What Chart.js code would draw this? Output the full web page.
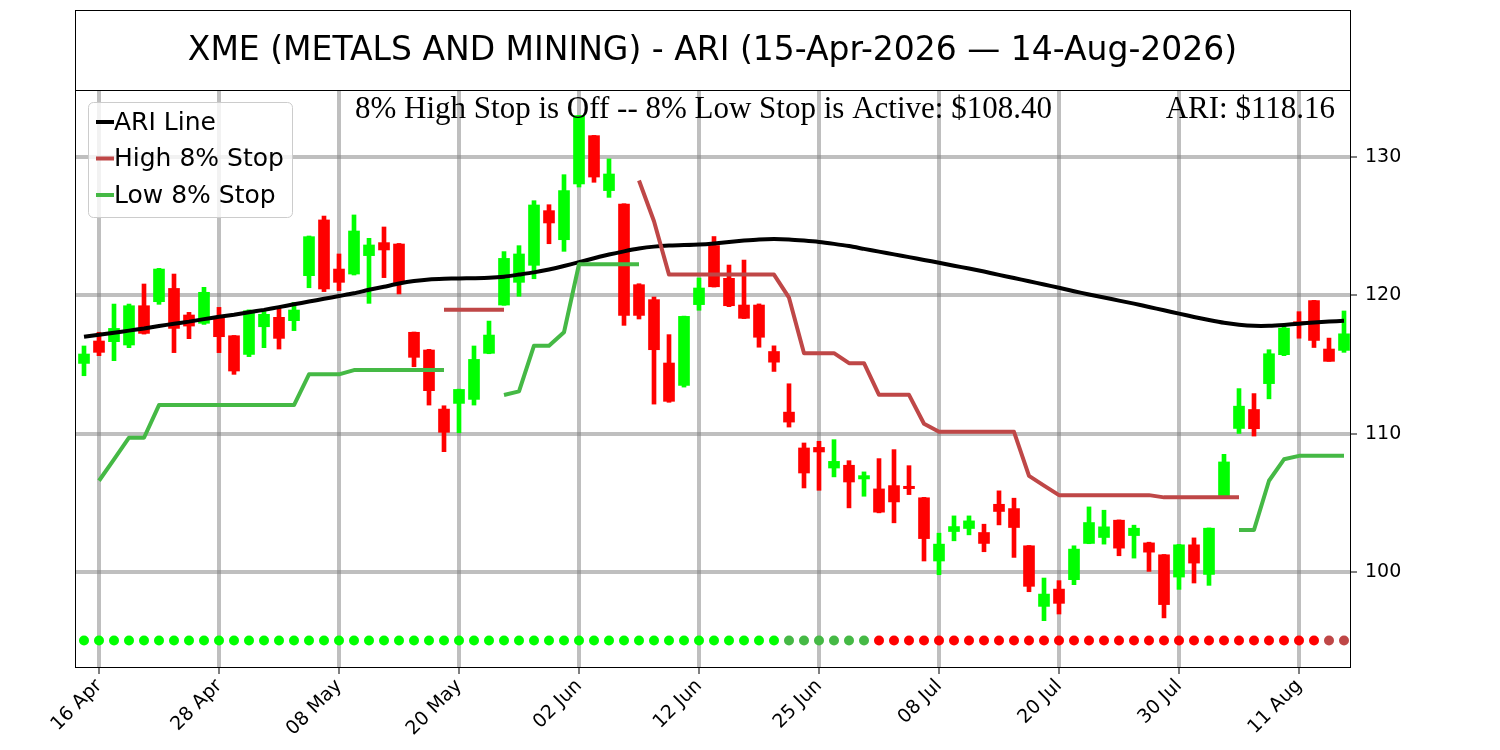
<!DOCTYPE html>
<html>
<head>
<meta charset="utf-8">
<title>XME ARI</title>
<script src="https://cdn.jsdelivr.net/npm/chart.js@4.4.1/dist/chart.umd.min.js"></script>
<style>
  html, body { margin: 0; padding: 0; background: #fff; }
  #wrap { width: 1500px; height: 750px; }
</style>
</head>
<body>
<div id="wrap"><canvas id="chart" width="1500" height="750"></canvas></div>
<script>
// trading days, 15-Apr-2026 .. 14-Aug-2026
const dates = [
  '15 Apr', '16 Apr', '17 Apr', '20 Apr', '21 Apr', '22 Apr', '23 Apr', '24 Apr', '27 Apr', '28 Apr',
  '29 Apr', '30 Apr', '01 May', '04 May', '05 May', '06 May', '07 May', '08 May', '11 May', '12 May',
  '13 May', '14 May', '15 May', '18 May', '19 May', '20 May', '21 May', '22 May', '26 May', '27 May',
  '28 May', '29 May', '01 Jun', '02 Jun', '03 Jun', '04 Jun', '05 Jun', '08 Jun', '09 Jun', '10 Jun',
  '11 Jun', '12 Jun', '15 Jun', '16 Jun', '17 Jun', '18 Jun', '22 Jun', '23 Jun', '24 Jun', '25 Jun',
  '26 Jun', '29 Jun', '30 Jun', '01 Jul', '02 Jul', '06 Jul', '07 Jul', '08 Jul', '09 Jul', '10 Jul',
  '13 Jul', '14 Jul', '15 Jul', '16 Jul', '17 Jul', '20 Jul', '21 Jul', '22 Jul', '23 Jul', '24 Jul',
  '27 Jul', '28 Jul', '29 Jul', '30 Jul', '31 Jul', '03 Aug', '04 Aug', '05 Aug', '06 Aug', '07 Aug',
  '10 Aug', '11 Aug', '12 Aug', '13 Aug', '14 Aug'
];

const opens = [
  115.08, 116.70, 116.65, 116.41, 119.25, 119.54, 120.50, 118.58, 117.98, 118.46,
  117.08, 115.73, 117.73, 118.41, 118.17, 121.42, 125.45, 121.90, 121.54, 122.87,
  123.81, 123.71, 117.33, 116.05, 111.78, 112.19, 112.48, 115.81, 119.30, 120.94,
  122.17, 126.12, 124.02, 128.05, 131.54, 127.57, 126.60, 120.77, 119.69, 115.11,
  113.49, 119.33, 123.60, 121.23, 119.30, 119.30, 115.94, 111.56, 108.97, 109.01,
  107.52, 107.72, 106.73, 106.01, 106.25, 106.20, 105.37, 100.80, 102.93, 103.15,
  102.86, 104.90, 104.59, 101.90, 97.52, 98.77, 99.45, 102.07, 102.50, 103.75,
  102.64, 102.11, 101.25, 99.64, 101.97, 99.83, 105.52, 110.38, 111.75, 113.62,
  115.71, 118.00, 119.62, 116.12, 116.02
];
const highs = [
  116.34, 117.33, 119.37, 119.37, 120.82, 121.95, 121.54, 118.77, 120.58, 119.13,
  117.10, 118.95, 118.94, 119.13, 119.49, 124.29, 125.73, 122.99, 125.81, 124.12,
  124.94, 123.75, 117.35, 116.10, 112.02, 113.22, 116.34, 118.14, 123.16, 123.59,
  126.84, 126.55, 128.72, 133.00, 131.56, 129.86, 126.62, 120.84, 119.88, 117.16,
  118.50, 121.25, 124.25, 122.19, 122.55, 119.38, 116.35, 113.61, 109.33, 109.45,
  109.57, 108.05, 107.24, 108.20, 108.85, 107.69, 105.40, 102.81, 104.06, 104.06,
  103.46, 105.87, 105.34, 101.92, 99.57, 99.38, 101.90, 104.71, 104.47, 103.77,
  103.39, 102.16, 101.27, 102.00, 102.47, 103.19, 108.51, 113.26, 112.90, 116.07,
  117.79, 118.82, 119.64, 116.91, 118.87
];
const lows = [
  114.19, 115.64, 115.28, 116.22, 117.20, 119.35, 115.86, 116.87, 117.90, 115.86,
  114.29, 115.57, 116.22, 116.12, 117.45, 120.55, 120.27, 120.34, 121.47, 119.42,
  121.28, 120.10, 114.84, 112.07, 108.70, 110.07, 112.07, 115.78, 119.28, 119.93,
  121.20, 123.73, 123.18, 127.83, 128.17, 127.08, 117.83, 118.29, 112.14, 112.27,
  113.37, 118.92, 120.60, 119.18, 118.32, 116.25, 114.50, 110.48, 106.08, 105.91,
  106.88, 104.64, 105.48, 104.28, 103.56, 105.60, 100.80, 99.81, 102.26, 102.69,
  101.47, 103.41, 101.06, 98.58, 96.49, 96.97, 99.09, 102.05, 102.02, 101.18,
  101.01, 100.05, 96.69, 98.75, 99.21, 99.04, 105.40, 110.02, 109.83, 112.52,
  115.64, 116.90, 116.23, 115.23, 115.88
];
const closes = [
  115.76, 115.88, 117.61, 119.25, 117.25, 121.90, 117.61, 117.78, 120.22, 117.01,
  114.53, 118.89, 118.63, 116.89, 118.94, 124.24, 120.46, 120.94, 124.65, 123.64,
  123.28, 120.92, 115.52, 113.11, 110.10, 113.20, 115.37, 117.13, 122.67, 122.99,
  126.53, 125.23, 127.57, 132.99, 128.55, 128.77, 118.55, 118.55, 116.07, 112.34,
  118.48, 120.53, 120.62, 119.25, 118.34, 116.97, 115.17, 110.84, 107.16, 108.68,
  108.00, 106.51, 106.97, 104.33, 105.07, 106.03, 102.42, 102.02, 103.29, 103.70,
  102.07, 104.38, 103.22, 98.97, 98.41, 97.74, 101.66, 103.58, 103.27, 101.73,
  103.17, 101.44, 97.65, 101.97, 100.65, 103.17, 107.96, 111.99, 110.36, 115.78,
  117.63, 117.95, 116.74, 115.23, 117.22
];

const ariLine = [
  117.00, 117.15, 117.30, 117.45, 117.60, 117.78, 117.95, 118.10, 118.28, 118.45,
  118.60, 118.78, 118.95, 119.15, 119.35, 119.55, 119.75, 119.95, 120.15, 120.40,
  120.62, 120.85, 121.03, 121.15, 121.20, 121.22, 121.24, 121.27, 121.35, 121.50,
  121.66, 121.87, 122.12, 122.40, 122.68, 122.95, 123.18, 123.38, 123.52, 123.60,
  123.63, 123.67, 123.75, 123.86, 123.96, 124.04, 124.07, 124.04, 123.96, 123.86,
  123.72, 123.56, 123.36, 123.16, 122.96, 122.76, 122.56, 122.36, 122.14, 121.94,
  121.72, 121.48, 121.25, 121.02, 120.78, 120.55, 120.30, 120.06, 119.84, 119.62,
  119.40, 119.16, 118.92, 118.68, 118.44, 118.22, 118.02, 117.88, 117.80, 117.80,
  117.86, 117.95, 118.04, 118.11, 118.16
];
const highStop = [
  null, null, null, null, null, null, null, null, null, null,
  null, null, null, null, null, null, null, null, null, null,
  null, null, null, null, 118.95, 118.95, 118.95, 118.95, 118.95, null,
  null, null, null, null, null, null, null, 128.30, 125.35, 121.50,
  121.50, 121.50, 121.50, 121.50, 121.50, 121.50, 121.50, 119.83, 115.82, 115.82,
  115.82, 115.10, 115.10, 112.81, 112.81, 112.81, 110.72, 110.14, 110.14, 110.14,
  110.14, 110.14, 110.14, 106.95, 106.25, 105.56, 105.56, 105.56, 105.56, 105.56,
  105.56, 105.56, 105.40, 105.40, 105.40, 105.40, 105.40, 105.40, null, null,
  null, null, null, null, null
];
const lowStop = [
  null, 106.60, 108.15, 109.71, 109.71, 112.07, 112.07, 112.07, 112.07, 112.07,
  112.07, 112.07, 112.07, 112.07, 112.07, 114.29, 114.29, 114.29, 114.60, 114.60,
  114.60, 114.60, 114.60, 114.60, 114.60, null, null, null, 112.80, 113.06,
  116.36, 116.36, 117.33, 122.25, 122.25, 122.25, 122.25, 122.25, null, null,
  null, null, null, null, null, null, null, null, null, null,
  null, null, null, null, null, null, null, null, null, null,
  null, null, null, null, null, null, null, null, null, null,
  null, null, null, null, null, null, null, 103.05, 103.05, 106.60,
  108.15, 108.40, 108.40, 108.40, 108.40
];
// G strong up, g weak up, R strong down, r weak down
const signals = ('GGGGGGGGGG GGGGGGGGGG GGGGGGGGGG GGGGGGGGGG GGGGGGGggg ' +
                 'gggRRRRRRR RRRRRRRRRR RRRRRRRRRR RRRrr').replace(/ /g, '').split('');
const signalLevel = 95.05;

const tickLabels = ['16 Apr', '28 Apr', '08 May', '20 May', '02 Jun', '12 Jun',
                    '25 Jun', '08 Jul', '20 Jul', '30 Jul', '11 Aug'];
const yTicks = [100, 110, 120, 130];

const titleText = 'XME (METALS AND MINING) - ARI (15-Apr-2026 \u2014 14-Aug-2026)';
const stopNote = '8% High Stop is Off -- 8% Low Stop is Active: $108.40';
const ariNote = 'ARI: $118.16';

const UP = '#00ff00';
const DOWN = '#ff0000';
const HIGH_STOP = '#bf4747';
const LOW_STOP = '#45b945';
const signalColors = { G: UP, g: LOW_STOP, R: DOWN, r: HIGH_STOP };
const GRID = 'rgba(128,128,128,0.5)';

Chart.defaults.font.family = '"DejaVu Sans", sans-serif';
Chart.defaults.color = '#000';

const candleColor = dates.map((d, i) => closes[i] >= opens[i] ? UP : DOWN);
const pts = arr => arr.map((v, i) => ({ x: i, y: v }));

const framePlugin = {
  id: 'frame',
  beforeDraw(chart) {
    const c = chart.ctx;
    c.save();
    c.fillStyle = '#fff';
    c.fillRect(0, 0, chart.width, chart.height);
    c.restore();
  },
  afterDraw(chart) {
    const c = chart.ctx;
    const a = chart.chartArea;
    c.save();
    // axes frame
    c.strokeStyle = '#000';
    c.lineWidth = 1;
    c.strokeRect(a.left + 0.5, a.top + 0.5, a.right - a.left, a.bottom - a.top);
    // title box
    c.strokeRect(a.left + 0.5, 10.5, a.right - a.left, a.top - 10);
    c.fillStyle = '#000';
    c.font = '33px "DejaVu Sans"';
    c.textAlign = 'center';
    c.textBaseline = 'middle';
    c.fillText(titleText, (a.left + a.right) / 2, (10 + a.top) / 2 + 1);
    // notes
    c.font = '31px "Liberation Serif", "Times New Roman", serif';
    c.textAlign = 'left';
    c.fillText(stopNote, 355, a.top + 20);
    c.textAlign = 'right';
    c.fillText(ariNote, a.right - 15, a.top + 20);
    // legend
    const items = chart.data.datasets.filter(d => d.inLegend);
    const lx = a.left + 13, ly = a.top + 12, lw = 204, lh = 115;
    c.beginPath();
    c.roundRect(lx + 0.5, ly + 0.5, lw, lh, 5);
    c.fillStyle = 'rgba(255,255,255,0.8)';
    c.fill();
    c.strokeStyle = '#cccccc';
    c.stroke();
    c.font = '25px "DejaVu Sans"';
    c.textBaseline = 'middle';
    c.textAlign = 'left';
    items.forEach((d, k) => {
      const y = ly + 20 + k * 36.5;
      c.strokeStyle = d.borderColor;
      c.lineWidth = 4;
      c.beginPath();
      c.moveTo(lx + 8, y);
      c.lineTo(lx + 26, y);
      c.stroke();
      c.fillStyle = '#000';
      c.fillText(d.label, lx + 26, y + 1);
    });
    c.restore();
  }
};

new Chart(document.getElementById('chart'), {
  type: 'bar',
  data: {
    datasets: [
      {
        type: 'line', label: 'ARI Line', inLegend: true, order: 3,
        data: pts(ariLine), borderColor: '#000', borderWidth: 4,
        pointRadius: 0, tension: 0.2
      },
      {
        type: 'line', label: 'High 8% Stop', inLegend: true, order: 2,
        data: pts(highStop), borderColor: HIGH_STOP, borderWidth: 4,
        pointRadius: 0, spanGaps: false, borderJoinStyle: 'round'
      },
      {
        type: 'line', label: 'Low 8% Stop', inLegend: true, order: 2,
        data: pts(lowStop), borderColor: LOW_STOP, borderWidth: 4,
        pointRadius: 0, spanGaps: false, borderJoinStyle: 'round'
      },
      {
        type: 'line', label: 'Signal', order: 1,
        data: signals.map((s, i) => ({ x: i, y: signalLevel })),
        showLine: false, pointRadius: 5, pointBorderWidth: 0,
        pointBackgroundColor: signals.map(s => signalColors[s]),
        pointBorderColor: signals.map(s => signalColors[s])
      },
      {
        label: 'Wick', order: 10,
        data: dates.map((d, i) => ({ x: i, y: [lows[i], highs[i]] })),
        backgroundColor: candleColor, barThickness: 4, grouped: false, borderWidth: 0
      },
      {
        label: 'Body', order: 9,
        data: dates.map((d, i) => ({ x: i, y: [opens[i], closes[i]] })),
        backgroundColor: candleColor, barThickness: 11, grouped: false,
        borderWidth: 0, minBarLength: 2
      }
    ]
  },
  options: {
    responsive: false,
    animation: false,
    devicePixelRatio: 1,
    layout: { padding: { left: 75, top: 90, right: 0, bottom: 0 } },
    plugins: { legend: { display: false }, tooltip: { enabled: false }, title: { display: false } },
    scales: {
      x: {
        type: 'linear', offset: false,
        min: -0.6, max: dates.length - 0.6,
        afterBuildTicks: s => { s.ticks = tickLabels.map(l => ({ value: dates.indexOf(l) })); },
        afterFit: s => { s.height = 83; s.paddingLeft = 0; s.paddingRight = 0; },
        ticks: {
          autoSkip: false, minRotation: 45, maxRotation: 45, padding: 1,
          font: { size: 19 }, color: '#000',
          callback: v => dates[v]
        },
        grid: { color: GRID, lineWidth: 4, offset: false, tickColor: '#000', tickWidth: 1, tickLength: 7 },
        border: { display: false }
      },
      y: {
        type: 'linear', position: 'right',
        min: 93.14, max: 134.84,
        afterBuildTicks: s => { s.ticks = yTicks.map(v => ({ value: v })); },
        afterFit: s => { s.width = 150; },
        ticks: { font: { size: 19 }, color: '#000', padding: 8 },
        grid: { color: GRID, lineWidth: 4, tickColor: '#000', tickWidth: 1, tickLength: 7 },
        border: { display: false }
      }
    }
  },
  plugins: [framePlugin]
});
</script>
</body>
</html>
